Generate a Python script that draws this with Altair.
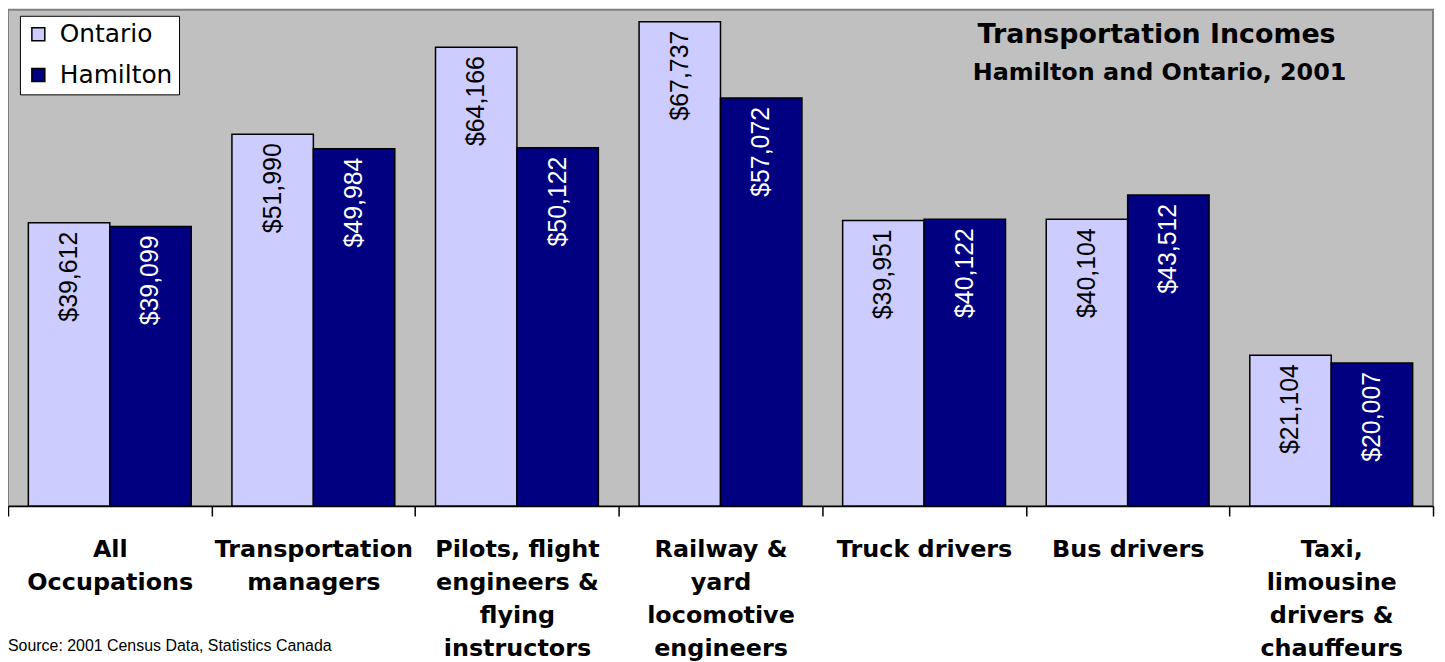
import altair as alt
import pandas as pd

categories = [
    "All|Occupations",
    "Transportation|managers",
    "Pilots, flight|engineers &|flying|instructors",
    "Railway &|yard|locomotive|engineers",
    "Truck drivers",
    "Bus drivers",
    "Taxi,|limousine|drivers &|chauffeurs",
]
series = ["Ontario", "Hamilton"]
ontario = [39612, 51990, 64166, 67737, 39951, 40104, 21104]
hamilton = [39099, 49984, 50122, 57072, 40122, 43512, 20007]
colors = ["#CCCCFF", "#000080"]
title_lines = ["Transportation Incomes", "Hamilton and Ontario, 2001"]
source_note = "Source: 2001 Census  Data, Statistics Canada"

rows = []
for c, o, h in zip(categories, ontario, hamilton):
    rows.append({"occupation": c, "series": "Ontario", "income": o})
    rows.append({"occupation": c, "series": "Hamilton", "income": h})
df = pd.DataFrame(rows)

W, H = 1433, 499

x = alt.X(
    "occupation:N",
    sort=categories,
    scale=alt.Scale(paddingInner=0, paddingOuter=0),
    axis=alt.Axis(
        title=None,
        labelExpr="split(datum.label, '|')",
        labelAngle=0,
        labelFont="DejaVu Sans",
        labelFontWeight="bold",
        labelFontSize=24,
        labelLineHeight=33,
        labelColor="black",
        labelPadding=22,
        labelLimit=400,
        labelOverlap=False,
        labelBaseline="top",
        tickBand="extent",
        tickSize=10,
        tickColor="black",
        tickWidth=1.5,
        domainColor="black",
        domainWidth=1.5,
        grid=False,
    ),
)
xo = alt.XOffset("series:N", sort=series, scale=alt.Scale(paddingInner=0, paddingOuter=0.25))
y = alt.Y("income:Q", scale=alt.Scale(domain=[0, 69400], nice=False), axis=None)

bars = alt.Chart(df).mark_bar(stroke="black", strokeWidth=1.5).encode(
    x=x,
    xOffset=xo,
    y=y,
    color=alt.Color(
        "series:N",
        sort=series,
        scale=alt.Scale(domain=series, range=colors),
        legend=alt.Legend(
            title=None,
            orient="none",
            legendX=12,
            legendY=6,
            fillColor="white",
            strokeColor="black",
            padding=6,
            symbolType="square",
            symbolSize=169,
            symbolStrokeColor="black",
            symbolStrokeWidth=1.5,
            labelFont="DejaVu Sans",
            labelFontSize=25,
            labelColor="black",
            rowPadding=15,
            labelOffset=9,
        ),
    ),
)

labels = alt.Chart(df).mark_text(
    angle=270, align="right", baseline="middle", dx=-9,
    font="Liberation Sans", fontSize=25,
).encode(
    x=x,
    xOffset=xo,
    y=y,
    text=alt.Text("income:Q", format="$,.0f"),
    color=alt.condition(alt.datum.series == "Ontario", alt.value("black"), alt.value("white")),
)

t1 = alt.Chart(pd.DataFrame({"t": [title_lines[0]]})).mark_text(
    font="DejaVu Sans", fontWeight="bold", fontSize=27, align="center", baseline="middle", color="black"
).encode(x=alt.value(1155), y=alt.value(25), text="t:N")

t2 = alt.Chart(pd.DataFrame({"t": [title_lines[1]]})).mark_text(
    font="DejaVu Sans", fontWeight="bold", fontSize=24, align="center", baseline="middle", color="black"
).encode(x=alt.value(1158), y=alt.value(64), text="t:N")

src = alt.Chart(pd.DataFrame({"t": [source_note]})).mark_text(
    font="Liberation Sans", fontSize=16, align="left", baseline="middle", color="black"
).encode(x=alt.value(0), y=alt.value(640), text="t:N")

chart = alt.layer(bars, labels, t1, t2, src).properties(
    width=W,
    height=H,
    autosize=alt.AutoSizeParams(type="none"),
    padding={"left": 0, "top": 0, "right": 4, "bottom": 155},
).configure_view(
    fill="#C0C0C0", stroke="#808080", strokeWidth=2
)

chart.save("out.html", embed_options={"renderer": "svg", "actions": False})
